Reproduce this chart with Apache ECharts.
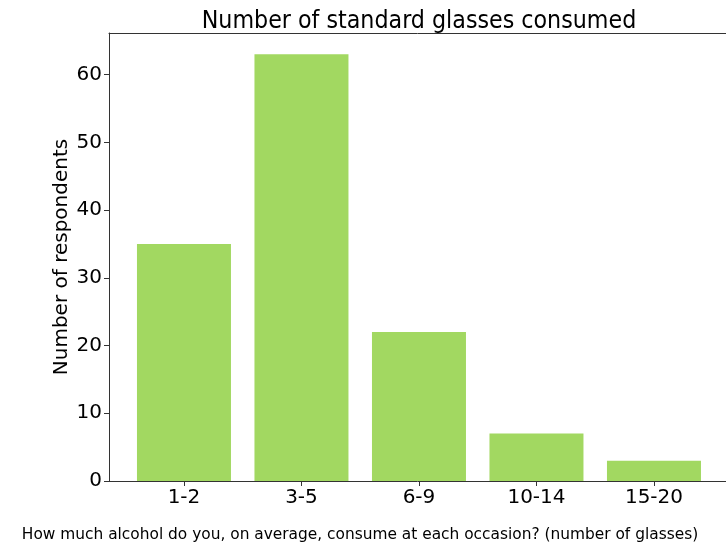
<!DOCTYPE html>
<html><head><meta charset="utf-8">
<script src="https://cdn.jsdelivr.net/npm/echarts@6/dist/echarts.min.js"></script>
<style>html,body{margin:0;padding:0;background:#fff}#c{width:726px;height:549px}</style>
</head><body><div id="c"></div>
<script>
const categories = ['1-2', '3-5', '6-9', '10-14', '15-20'];
const respondents = [35, 63, 22, 7, 3];
const yTicks = [0, 10, 20, 30, 40, 50, 60];

const chart = echarts.init(document.getElementById('c'), null, {renderer: 'canvas'});
const font = 'DejaVu Sans';
const idx = categories.map((c, i) => i);
chart.setOption({
  animation: false,
  backgroundColor: '#fff',
  title: [
    {text: 'Number of standard glasses consumed', left: 414, top: 4, textAlign: 'center',
     textStyle: {fontFamily: 'DejaVu Sans Condensed', fontSize: 24.7, fontWeight: 'normal', color: '#000'}},
    {text: 'How much alcohol do you, on average, consume at each occasion? (number of glasses)', left: 355, top: 522, textAlign: 'center',
     textStyle: {fontFamily: font, fontSize: 15.4, fontWeight: 'normal', color: '#000'}}
  ],
  grid: {left: 109, top: 33, right: 0, bottom: 68, containLabel: false},
  xAxis: [{
    type: 'value', min: -0.638, max: 4.613,
    axisLine: {show: true, onZero: false, lineStyle: {color: '#333'}},
    axisTick: {show: true, customValues: idx, length: 5, lineStyle: {color: '#333'}},
    axisLabel: {customValues: idx, formatter: v => categories[Math.round(v)] || '',
      fontFamily: font, fontSize: 20, color: '#000', margin: 7},
    splitLine: {show: false}
  }, {
    type: 'value', position: 'top', min: -0.638, max: 4.613,
    axisLine: {show: true, onZero: false, lineStyle: {color: '#333'}},
    axisTick: {show: false}, axisLabel: {show: false}, splitLine: {show: false}
  }],
  yAxis: {
    type: 'value', min: 0, max: 66.15, interval: 10,
    name: 'Number of respondents', nameLocation: 'middle', nameGap: 37, nameMoveOverlap: false,
    nameTextStyle: {fontFamily: font, fontSize: 20, color: '#000'},
    axisLine: {show: true, onZero: false, lineStyle: {color: '#333'}},
    axisTick: {show: true, customValues: yTicks, length: 5, lineStyle: {color: '#333'}},
    axisLabel: {customValues: yTicks, fontFamily: font, fontSize: 20, color: '#000', margin: 7},
    splitLine: {show: false}
  },
  series: [{
    type: 'bar',
    xAxisIndex: 0,
    data: respondents.map((v, i) => [i, v]),
    barWidth: 94,
    itemStyle: {color: '#a2d861'}
  }]
});
</script></body></html>
